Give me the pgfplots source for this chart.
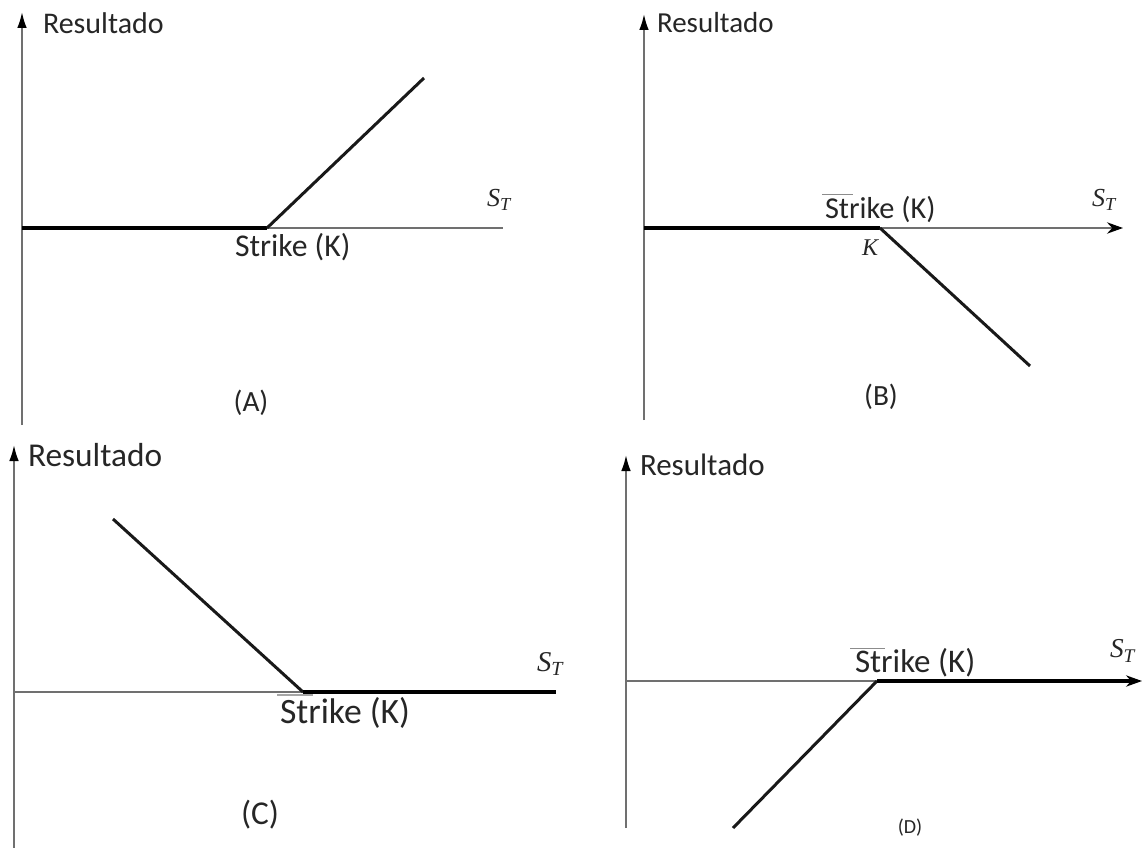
\documentclass[border=0pt]{standalone}
\usepackage{pgfplots}
\pgfplotsset{compat=1.18}
\usepackage{fontspec}
\setmainfont{Carlito}
\newfontfamily\tnr{Liberation Serif}
\usetikzlibrary{arrows.meta}
\definecolor{axgray}{HTML}{707070}
\newcommand{\fs}[1]{\fontsize{#1}{#1}\selectfont}
\newcommand{\ST}[2]{{\fs{#1}\tnr\itshape S\raisebox{-0.35ex}{\fs{#2}T}}}
\tikzset{tx/.style={inner sep=0pt, outer sep=0pt, anchor=west, text=black!85},
         tc/.style={inner sep=0pt, outer sep=0pt, text=black!85}}
\begin{document}
\begin{tikzpicture}
\begin{axis}[name=ax, hide axis, clip=false,
  x=0.3pt, y=0.3pt, xmin=0, xmax=1143, ymin=0, ymax=848, y dir=reverse]
% ---------- axes ----------
\pgfplotsset{axstyle/.style={axgray, line width=0.6pt}}
% (A)
\addplot[axstyle, -{Latex[length=4.8pt,width=2.9pt,black]}] coordinates {(22,425) (22,12)};
\addplot[axstyle] coordinates {(22,228) (503,228)};
% (B)
\addplot[axstyle, -{Latex[length=4.8pt,width=2.9pt,black]}] coordinates {(644,420) (644,14)};
\addplot[axstyle, -{Stealth[length=4.8pt,width=3.4pt,black]}] coordinates {(644,228) (1123,228)};
% (C)
\addplot[axstyle, -{Latex[length=4.8pt,width=2.9pt,black]}] coordinates {(14,848) (14,445)};
\addplot[axstyle] coordinates {(14,692) (556,692)};
% (D)
\addplot[axstyle, -{Latex[length=4.8pt,width=2.9pt,black]}] coordinates {(626,828) (626,455)};
\addplot[axstyle, -{Stealth[length=4.8pt,width=3.4pt,black]}] coordinates {(626,681) (1142,681)};
% ---------- payoffs ----------
% (A) long call
\addplot[black, line width=1.2pt] coordinates {(22,228) (267,228)};
\addplot[black!90, line width=0.9pt] coordinates {(267,228) (424,78)};
% (B) short call
\addplot[black, line width=1.2pt] coordinates {(644,228) (880,228)};
\addplot[black!90, line width=0.9pt] coordinates {(880,228) (1030,366)};
% (C) long put
\addplot[black!90, line width=0.9pt] coordinates {(113,519) (303,692)};
\addplot[black, line width=1.2pt] coordinates {(303,692) (556,692)};
% (D) short put
\addplot[black!90, line width=0.9pt] coordinates {(733,828) (877,681)};
\addplot[black, line width=1.2pt] coordinates {(877,681) (1135,681)};
% small stray strokes
\addplot[black!45, line width=0.3pt] coordinates {(822,195) (853,195)};
\addplot[black!45, line width=0.3pt] coordinates {(850,648) (885,648)};
\addplot[black!35, line width=0.4pt] coordinates {(277,695) (313,695)};
% ---------- texts ----------
% (A)
\node[tx] at (axis cs:43,23) {\fs{9}Resultado};
\node[tx] at (axis cs:235,247) {\fs{9.5}Strike (K)};
\node[tx] at (axis cs:487,200) {\ST{7.8}{5.5}};
\node[tc] at (axis cs:251,403) {\fs{8.8}(A)};
% (B)
\node[tx] at (axis cs:657,23) {\fs{8.7}Resultado};
\node[tx] at (axis cs:825,210) {\fs{9.1}Strike (K)};
\node[tc] at (axis cs:870,248) {\fs{7.2}\tnr\itshape K};
\node[tx] at (axis cs:1092,200) {\ST{7.8}{5.5}};
\node[tc] at (axis cs:881,397) {\fs{8.8}(B)};
% (C)
\node[tx] at (axis cs:28,455) {\fs{10}Resultado};
\node[tx] at (axis cs:280,713) {\fs{10.7}Strike (K)};
\node[tx] at (axis cs:537,664) {\ST{8.6}{6}};
\node[tc] at (axis cs:260,815) {\fs{10}(C)};
% (D)
\node[tx] at (axis cs:640,465) {\fs{9.3}Resultado};
\node[tx] at (axis cs:855,663) {\fs{9.9}Strike (K)};
\node[tx] at (axis cs:1110,651) {\ST{8.2}{5.8}};
\node[tc] at (axis cs:910,828) {\fs{6}(D)};
\end{axis}
\pgfresetboundingbox
\path (ax.south west) rectangle (ax.north east);
\end{tikzpicture}
\end{document}
